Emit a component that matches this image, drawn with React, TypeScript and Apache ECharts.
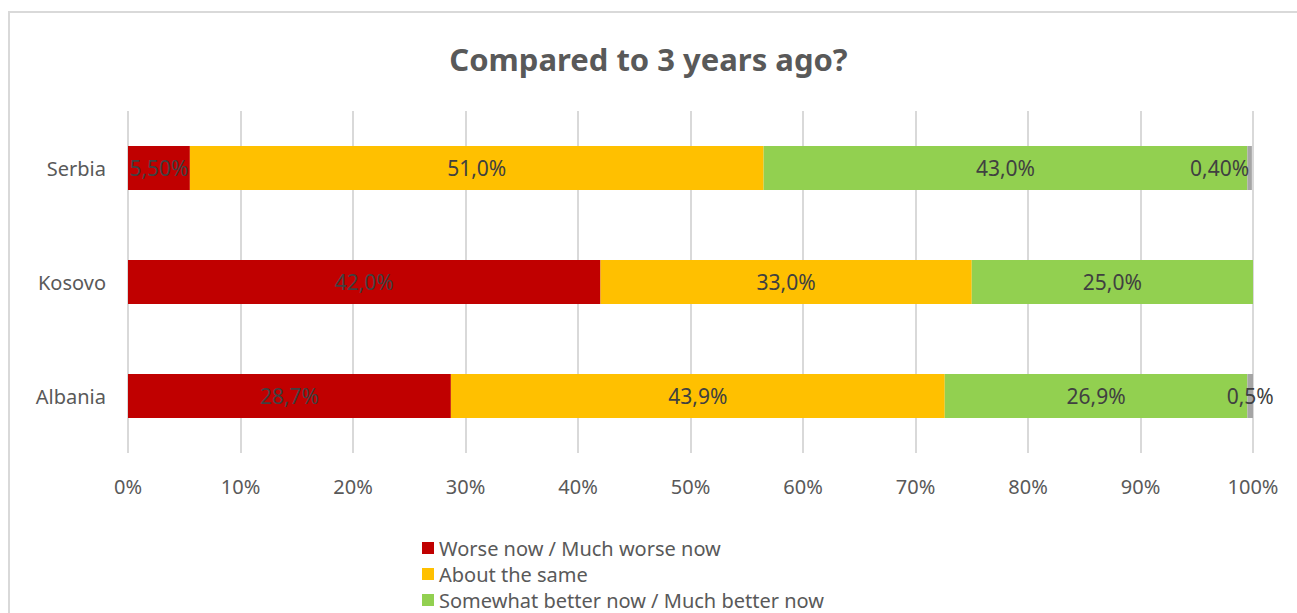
import React, { useEffect, useRef } from "react";
import * as echarts from "echarts";

const categories = ["Albania", "Kosovo", "Serbia"];
const seriesNames = [
  "Worse now / Much worse now",
  "About the same",
  "Somewhat better now / Much better now",
  "Don't know",
];
const worse = [28.7, 42.0, 5.5];
const same = [43.9, 33.0, 51.0];
const better = [26.9, 25.0, 43.0];
const dontKnow = [0.5, 0, 0.4];
const worseLabels = ["28,7%", "42,0%", "5,50%"];
const sameLabels = ["43,9%", "33,0%", "51,0%"];
const betterLabels = ["26,9%", "25,0%", "43,0%"];
const dontKnowLabels = ["0,5%", "", "0,40%"];
const xTicks = [0, 10, 20, 30, 40, 50, 60, 70, 80, 90, 100];
const colors = ["#C00000", "#FFC000", "#92D050", "#A5A5A5"];

const FONT = "'Noto Sans', 'Open Sans', sans-serif";

export default function App() {
  const ref = useRef<HTMLDivElement>(null);
  useEffect(() => {
    if (!ref.current) return;
    const chart = echarts.init(ref.current, null, { renderer: "svg" });
    const values = [worse, same, better, dontKnow];
    const labels = [worseLabels, sameLabels, betterLabels, dontKnowLabels];
    const series = values.map((vals, si) => ({
      name: seriesNames[si],
      type: "bar",
      stack: "total",
      barWidth: 44,
      itemStyle: { color: colors[si] },
      data: vals.map((v, i) => ({
        value: v,
        label: {
          show: labels[si][i] !== "",
          position: "inside",
          offset: si === 3 && i === 2 ? [-30, 0] : [0, 0],
          formatter: () => labels[si][i],
          color: "#404040",
          fontSize: 21,
          fontFamily: FONT,
        },
      })),
    }));
    chart.setOption({
      animation: false,
      textStyle: { fontFamily: FONT },
      title: {
        text: "Compared to 3 years ago?",
        left: "center",
        top: 38,
        textStyle: { fontSize: 31, fontWeight: "bold", color: "#595959", fontFamily: FONT },
      },
      graphic: [
        {
          type: "rect",
          shape: { x: 9, y: 12, width: 1400, height: 800 },
          style: { fill: "none", stroke: "#D9D9D9", lineWidth: 2 },
          silent: true,
        },
      ],
      legend: {
        data: seriesNames.slice(0, 3),
        orient: "vertical",
        left: 422,
        top: 538,
        height: 200,
        padding: 0,
        itemWidth: 12,
        itemHeight: 12,
        itemGap: 6,
        icon: "rect",
        textStyle: { fontSize: 20, lineHeight: 20, color: "#595959", fontFamily: FONT },
      },
      grid: { left: 128, right: 44, top: 111, bottom: 160 },
      xAxis: {
        type: "value",
        min: 0,
        max: 100,
        interval: 10,
        axisLine: { show: false },
        axisTick: { show: false },
        splitLine: { show: true, lineStyle: { color: "#D9D9D9", width: 2 } },
        axisLabel: {
          formatter: (v: number) => (xTicks.includes(v) ? v + "%" : ""),
          fontSize: 20,
          color: "#595959",
          margin: 23,
          fontFamily: FONT,
        },
      },
      yAxis: {
        type: "category",
        data: categories,
        axisLine: { show: false },
        axisTick: { show: false },
        axisLabel: { fontSize: 20, color: "#595959", margin: 22, fontFamily: FONT },
      },
      series,
    });
    return () => chart.dispose();
  }, []);
  return (
    <div
      ref={ref}
      style={{ position: "fixed", left: 0, top: 0, width: 1297, height: 613, background: "#fff" }}
    />
  );
}
